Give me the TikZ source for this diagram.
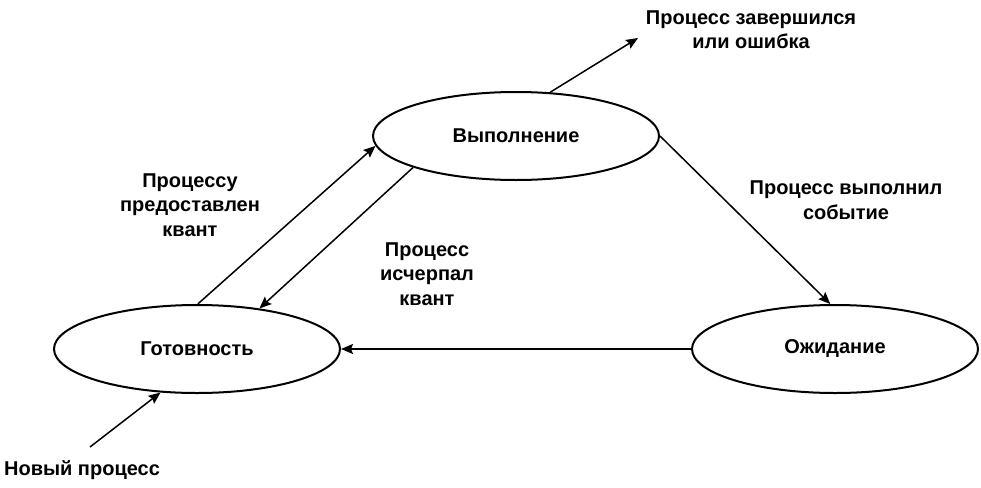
\documentclass[tikz,border=0pt]{standalone}
\usepackage{fontspec}
\setmainfont{Liberation Sans}
\usetikzlibrary{shapes.geometric,arrows.meta}
\begin{document}
\begin{tikzpicture}[x=1pt,y=-1pt,
  state/.style={draw, ellipse, line width=2pt, minimum width=286pt, minimum height=88pt, inner sep=0pt, font=\bfseries\fontsize{20}{24}\selectfont},
  lbl/.style={align=center, inner sep=0pt, font=\bfseries\fontsize{20}{24.5}\selectfont},
  conn/.style={line width=1.5pt, -{Stealth[length=12pt,width=10pt,inset=2pt]}}]
\useasboundingbox[fill=white] (0,0) rectangle (981,487);
\node[state] (run) at (516,136) {Выполнение};
\node[state] (ready) at (197,349) {Готовность};
\node[state] (wait) at (835,349) {Ожидание};
\coordinate (exit) at (638,38);
\coordinate (new) at (90,447);
\draw[conn] (ready.89) -- (run.184);
\draw[conn] (run.197) -- (ready.33);
\draw[conn] (run.0) -- (wait.96);
\draw[conn] (run.52) -- (exit);
\draw[conn] (wait.west) -- (ready.east);
\draw[conn] (new) -- (ready.230);
\node[lbl] (lexit) at (751,29.5) {Процесс завершился\\или ошибка};
\node[lbl] (lgive) at (190,205) {Процессу\\предоставлен\\квант};
\node[lbl] (lexh) at (427,274) {Процесс\\исчерпал\\квант};
\node[lbl] (levent) at (846,200) {Процесс выполнил\\событие};
\node[lbl] (lnew) at (82,470) {Новый процесс};
\end{tikzpicture}
\end{document}
